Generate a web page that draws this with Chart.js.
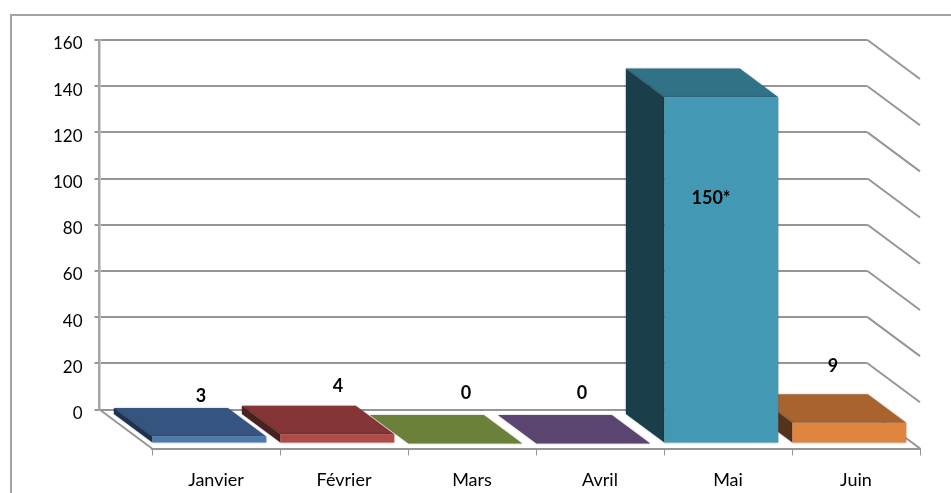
<!DOCTYPE html>
<html lang="fr">
<head>
    <meta charset="UTF-8">
    <title>Janvier - Juin</title>
    <script src="https://cdn.jsdelivr.net/npm/chart.js"></script>
    <style>
        body { margin: 0; background: #fff; }
        #frame { position: absolute; left: 10px; top: 14px; width: 941px; height: 479px;
                 border-left: 2px solid #a3a3a3; border-top: 2px solid #a3a3a3; box-sizing: border-box; }
        canvas { position: absolute; left: 0; top: 0; }
    </style>
</head>
<body>
    <div id="frame"></div>
    <canvas id="chart" width="951" height="493"></canvas>

    <script>
        const months = ['Janvier', 'Février', 'Mars', 'Avril', 'Mai', 'Juin'];
        const values = [3, 4, 0, 0, 150, 9];
        const valueLabels = ['3', '4', '0', '0', '150*', '9'];

        const frontColors = ['#4a7ab0', '#b04b48', '#8aa34c', '#76598f', '#4399b4', '#e08540'];
        const topColors = ['#355580', '#843535', '#6b8039', '#5a4570', '#307286', '#a8632e'];
        const sideColors = ['#1f3350', '#4a2020', '#414f22', '#34284a', '#1b3f4a', '#55331a'];

        // hand placed in the original, offset from the top of each bar
        const labelNudge = [[-15, -6], [-6, -14], [-6, -16], [-18, -16], [-17, 135], [-23, -23]];

        const depthX = 52.5, depthY = 39;
        const barFront = 0.873, barBack = 0.14;
        const gridColor = '#969696';

        // x is on the front plane of the floor, y on the back wall
        function project(x, y, d) {
            return [x - (1 - d) * depthX, y + d * depthY];
        }

        function poly(ctx, pts, color) {
            ctx.beginPath();
            pts.forEach((p, i) => i ? ctx.lineTo(p[0], p[1]) : ctx.moveTo(p[0], p[1]));
            ctx.closePath();
            ctx.fillStyle = color;
            ctx.fill();
        }

        const fake3d = {
            id: 'fake3d',
            // the category axis sits on the front edge of the floor
            afterLayout(chart) {
                const x = chart.scales.x;
                x.left += depthX;
                x.right += depthX;
                x.top += depthY;
                x.bottom += depthY;
                x.configure();
            },
            beforeDatasetsDraw(chart) {
                const ctx = chart.ctx, y = chart.scales.y, a = chart.chartArea;
                ctx.save();
                ctx.strokeStyle = gridColor;
                ctx.lineWidth = 2;
                y.ticks.forEach(t => {
                    const py = y.getPixelForValue(t.value);
                    ctx.beginPath();
                    ctx.moveTo(a.right, py);
                    ctx.lineTo(a.right + depthX, py + depthY);
                    ctx.stroke();
                });
                const py = y.getPixelForValue(0);
                ctx.beginPath();
                ctx.moveTo(a.left, py);
                ctx.lineTo(a.left + depthX, py + depthY);
                ctx.stroke();
                ctx.restore();
            },
            beforeDatasetDraw(chart, args) {
                const ctx = chart.ctx, bars = chart.getDatasetMeta(args.index).data;
                ctx.save();
                for (let i = bars.length - 1; i >= 0; i--) {
                    const b = bars[i], l = b.x - b.width / 2, r = b.x + b.width / 2;
                    ctx.shadowColor = 'rgba(0,0,0,0.3)';
                    ctx.shadowBlur = 2;
                    poly(ctx, [project(l, b.y, barBack), project(r, b.y, barBack),
                               project(r, b.y, barFront), project(l, b.y, barFront)], topColors[i]);
                    if (values[i] > 0) {
                        poly(ctx, [project(l, b.y, barBack), project(l, b.y, barFront),
                                   project(l, b.base, barFront), project(l, b.base, barBack)], sideColors[i]);
                        poly(ctx, [project(l, b.y, barFront), project(r, b.y, barFront),
                                   project(r, b.base, barFront), project(l, b.base, barFront)], frontColors[i]);
                    }
                }
                ctx.restore();
                return false;
            },
            afterDatasetsDraw(chart) {
                const ctx = chart.ctx, bars = chart.getDatasetMeta(0).data;
                ctx.save();
                ctx.font = 'bold 18px Lato';
                ctx.fillStyle = '#000';
                ctx.textAlign = 'center';
                ctx.textBaseline = 'middle';
                bars.forEach((b, i) => {
                    ctx.fillText(valueLabels[i], b.x + labelNudge[i][0], b.y + labelNudge[i][1]);
                });
                ctx.restore();
            }
        };

        new Chart(document.getElementById('chart').getContext('2d'), {
            type: 'bar',
            data: {
                labels: months,
                datasets: [{
                    data: values,
                    backgroundColor: frontColors,
                    barPercentage: 0.89,
                    categoryPercentage: 1
                }]
            },
            plugins: [fake3d],
            options: {
                responsive: false,
                animation: false,
                layout: { padding: { left: 39.5, right: 83.5, top: 40, bottom: 45.5 } },
                plugins: { legend: { display: false }, tooltip: { enabled: false } },
                scales: {
                    x: {
                        afterFit(s) { s.height = 38; },
                        grid: { drawOnChartArea: false, tickLength: 7, color: gridColor },
                        border: { color: gridColor, width: 2 },
                        ticks: { color: '#000', padding: 14, maxRotation: 0, autoSkip: false,
                                 font: { family: 'Lato', size: 18 } }
                    },
                    y: {
                        min: 0,
                        max: 160,
                        afterFit(s) { s.width = 60; },
                        grid: { color: gridColor, lineWidth: 2, tickLength: 5 },
                        border: { color: '#a6a6a6', width: 2.5 },
                        ticks: { color: '#000', padding: 12, stepSize: 20, labelOffset: 4,
                                 font: { family: 'Lato', size: 17 } }
                    }
                }
            }
        });
    </script>
</body>
</html>
